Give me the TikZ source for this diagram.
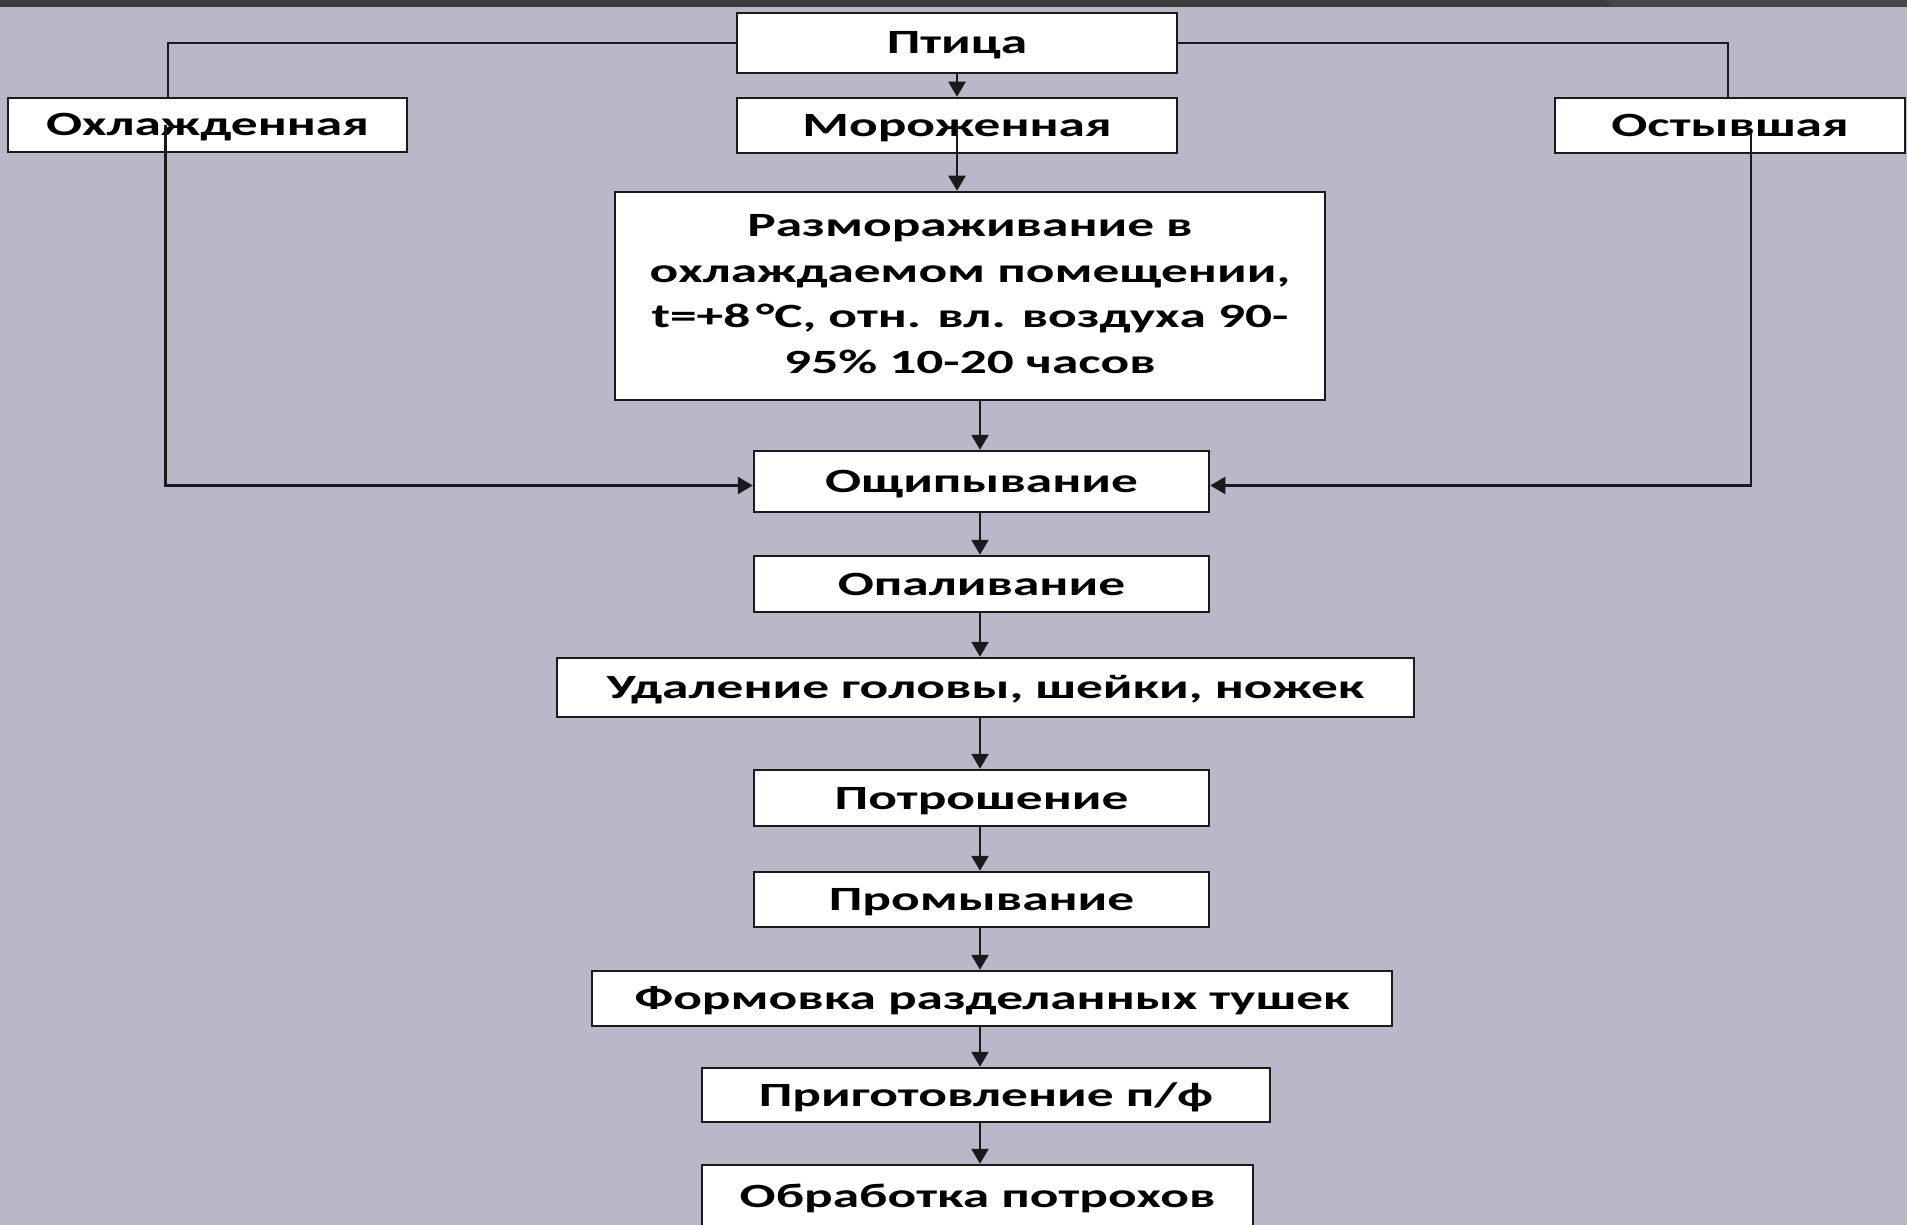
\documentclass[tikz,border=0pt]{standalone}
\usepackage{fontspec}
\usetikzlibrary{arrows.meta,calc}
\newfontfamily\boxfont{Carlito}[FakeStretch=1.57]
\definecolor{bgc}{HTML}{B9B7C8}
\definecolor{stripc}{HTML}{3D3D3D}
\definecolor{stripd}{HTML}{474747}
\definecolor{linec}{HTML}{1A1A1A}
\tikzset{
  box/.style={draw=linec, fill=white, line width=2.5pt, inner sep=0pt, align=center,
    font=\boxfont\bfseries\fontsize{34}{45.4}\selectfont, text=black},
  onebox/.style={box, text height=30pt, text depth=8pt},
  conn/.style={draw=linec, line width=2.5pt},
  arr/.style={conn, -{Triangle[width=17pt,length=15pt]}}
}
\begin{document}
\begin{tikzpicture}[x=1pt,y=-1pt]
\useasboundingbox (0,0) rectangle (1907,1225);
\fill[bgc] (0,0) rectangle (1907,1225);
\fill[stripc] (0,0) rectangle (1907,7);
\fill[stripd] (1605,0) -- (1907,0) -- (1907,7) -- (1612,7) -- cycle;

\node[onebox, minimum width=440pt, minimum height=60pt] (ptica) at (957,43) {Птица};
\node[onebox, minimum width=399pt, minimum height=54pt] (ohl) at (207.5,125) {Охлажденная};
\node[onebox, minimum width=440pt, minimum height=55pt] (moro) at (957,125.5) {Мороженная};
\node[onebox, minimum width=350pt, minimum height=55pt] (ost) at (1730,125.5) {Остывшая};
\node[box, minimum width=710pt, minimum height=208pt] (razm) at (970,296) {\raisebox{7pt}{\begin{tabular}{@{}c@{}}Размораживание в\\охлаждаемом помещении,\\t=+8\,°С, отн. вл. воздуха 90-\\95\% 10-20 часов\end{tabular}}};
\node[onebox, minimum width=455pt, minimum height=61pt] (osh) at (981.5,481.5) {Ощипывание};
\node[onebox, minimum width=455pt, minimum height=56pt] (opal) at (981.5,584) {Опаливание};
\node[onebox, minimum width=857pt, minimum height=59pt] (udal) at (985.5,687.5) {Удаление головы, шейки, ножек};
\node[onebox, minimum width=455pt, minimum height=56pt] (potr) at (981.5,798) {Потрошение};
\node[onebox, minimum width=455pt, minimum height=55pt] (prom) at (981.5,899.5) {Промывание};
\node[onebox, minimum width=800pt, minimum height=55pt] (form) at (992,998.5) {Формовка разделанных тушек};
\node[onebox, minimum width=568pt, minimum height=54pt] (prig) at (986,1095) {Приготовление п/ф};
\node[onebox, minimum width=551pt, minimum height=63pt] (obr) at (977.5,1196.5) {Обработка потрохов};

\coordinate (spine) at (980,0);
\coordinate (lx) at (168,0);
\coordinate (rx) at (1728,0);

% from Птица
\draw[conn] (ptica.west) -| (lx |- ohl.north);
\draw[conn] (ptica.east) -| (rx |- ost.north);
\draw[arr] (ptica.south) -- (moro.north);
% side branches into Ощипывание
\draw[arr] ([xshift=-42pt]ohl.center) |- ([yshift=-4pt]osh.west);
\draw[arr] ([xshift=21pt,yshift=-8pt]ost.center) |- ([yshift=-4pt]osh.east);
\draw[arr] (moro.center) -- (moro.center |- razm.north);
% main chain
\draw[arr] (razm.south -| spine) -- (osh.north -| spine);
\draw[arr] (osh.south -| spine) -- (opal.north -| spine);
\draw[arr] (opal.south -| spine) -- (udal.north -| spine);
\draw[arr] (udal.south -| spine) -- (potr.north -| spine);
\draw[arr] (potr.south -| spine) -- (prom.north -| spine);
\draw[arr] (prom.south -| spine) -- (form.north -| spine);
\draw[arr] (form.south -| spine) -- (prig.north -| spine);
\draw[arr] (prig.south -| spine) -- (obr.north -| spine);
\end{tikzpicture}
\end{document}
